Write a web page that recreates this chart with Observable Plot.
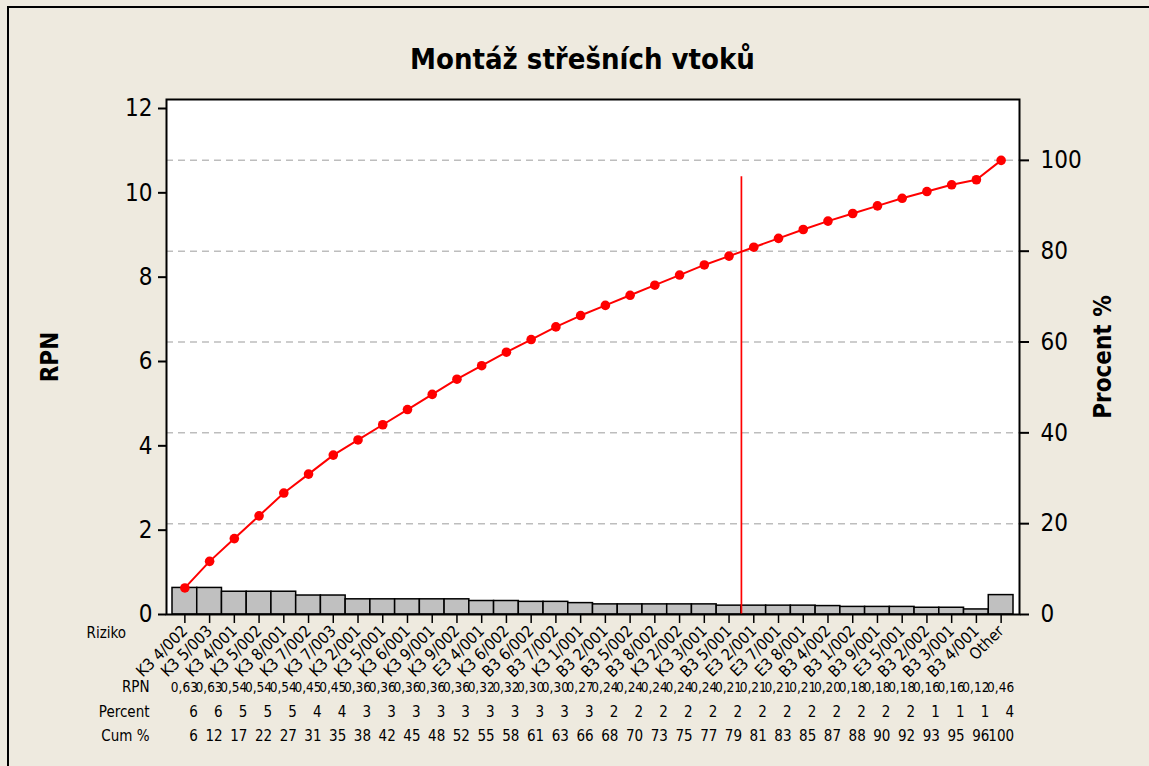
<!DOCTYPE html>
<html>
<head>
<meta charset="utf-8">
<script src="https://cdn.jsdelivr.net/npm/d3@7"></script>
<script src="https://cdn.jsdelivr.net/npm/@observablehq/plot@0.6"></script>
<style>
  html, body { margin: 0; padding: 0; width: 1149px; height: 766px; overflow: hidden; background: #EEEADF; }
  #page { position: relative; width: 1149px; height: 766px; background: #EEEADF; overflow: hidden;
          font-family: "DejaVu Sans Condensed", "DejaVu Sans", sans-serif; color: #000; }
  #border { position: absolute; left: 7px; top: 6px; width: 1300px; height: 900px; border: 2px solid #000; box-sizing: border-box; }
  #title { position: absolute; left: 0; top: 41px; width: 1165px; text-align: center; font-weight: bold; font-size: 29px; line-height: 36px; }
  #chart { position: absolute; left: 0; top: 0; }
</style>
</head>
<body>
<div id="page">
  <div id="border"></div>
  <div id="chart"></div>
  <div id="title">Montáž střešních vtoků</div>
</div>
<script>
const categories = ["K3 4/002","K3 5/003","K3 4/001","K3 5/002","K3 8/001","K3 7/002","K3 7/003","K3 2/001","K3 5/001","K3 6/001","K3 9/001","K3 9/002","E3 4/001","K3 6/002","B3 6/002","B3 7/002","K3 1/001","B3 2/001","B3 5/002","B3 8/002","K3 2/002","K3 3/001","B3 5/001","E3 2/001","E3 7/001","E3 8/001","B3 4/002","B3 1/002","B3 9/001","E3 5/001","B3 2/002","B3 3/001","B3 4/001","Other"];
const rpn = [0.63,0.63,0.54,0.54,0.54,0.45,0.45,0.36,0.36,0.36,0.36,0.36,0.32,0.32,0.30,0.30,0.27,0.24,0.24,0.24,0.24,0.24,0.21,0.21,0.21,0.21,0.20,0.18,0.18,0.18,0.16,0.16,0.12,0.46];
const percent = [6,6,5,5,5,4,4,3,3,3,3,3,3,3,3,3,3,2,2,2,2,2,2,2,2,2,2,2,2,2,1,1,1,4];
const cumPercent = [6,12,17,22,27,31,35,38,42,45,48,52,55,58,61,63,66,68,70,73,75,77,79,81,83,85,87,88,90,92,93,95,96,100];
const leftTicks = [0,2,4,6,8,10,12];
const rightTicks = [0,20,40,60,80,100];
const gridPercents = [20,40,60,80,100];
const cutoffAfter = "B3 5/001";
const cutoffTop = 10.38;

const total = d3.sum(rpn);
const cum = d3.cumsum(rpn);
const data = categories.map((c, i) => ({cat: c, rpn: rpn[i], pct: percent[i], cumPct: cumPercent[i], cum: cum[i]}));
const fmt = v => v.toFixed(2).replace(".", ",");

const W = 1149, H = 766;
const mL = 166, mR = W - 1019, mT = 99, mB = H - 614;
const bw = (W - mL - mR - 12) / categories.length;

const chart = Plot.plot({
  width: W, height: H,
  marginLeft: mL, marginRight: mR, marginTop: mT, marginBottom: mB,
  style: {background: "transparent", fontFamily: "'DejaVu Sans Condensed', 'DejaVu Sans', sans-serif", color: "#000", overflow: "visible"},
  x: {domain: categories, padding: 0, round: false, insetLeft: 6, insetRight: 6},
  y: {domain: [0, 12], insetTop: 9},
  marks: [
    Plot.frame({fill: "white", stroke: null}),
    Plot.ruleY(gridPercents, {y: p => p * total / 100, stroke: "#BDBDBD", strokeWidth: 1.5, strokeDasharray: "7,5"}),
    Plot.barY(data, {x: "cat", y: "rpn", fill: "#C0C0C0", stroke: "#000", strokeWidth: 1.5}),
    Plot.ruleX([cutoffAfter], {y1: 0, y2: cutoffTop, stroke: "#FF0000", strokeWidth: 1.7, dx: bw / 2}),
    Plot.line(data, {x: "cat", y: "cum", stroke: "#FF0000", strokeWidth: 2}),
    Plot.dot(data, {x: "cat", y: "cum", r: 4.8, fill: "#FF0000", stroke: null}),
    Plot.frame({stroke: "#000", strokeWidth: 2}),
    Plot.axisY({anchor: "left", ticks: leftTicks, tickSize: 8, tickPadding: 6, fontSize: 24, strokeWidth: 2, label: null}),
    Plot.axisY({anchor: "right", ticks: rightTicks.map(p => p * total / 100), tickFormat: d => String(Math.round(d / total * 100)), tickSize: 9, tickPadding: 12, fontSize: 24, strokeWidth: 2, label: null}),
    Plot.axisX({tickRotate: -45, tickSize: 9, tickPadding: 5, fontSize: 16, strokeWidth: 1.5, label: null}),
    Plot.text(["RPN"], {frameAnchor: "left", textAnchor: "middle", dx: -116, rotate: -90, fontSize: 24, fontWeight: "bold"}),
    Plot.text(["Procent %"], {frameAnchor: "right", textAnchor: "middle", dx: 84, rotate: -90, fontSize: 24, fontWeight: "bold"}),
    Plot.text(["Riziko"], {frameAnchor: "bottom-left", dx: -80, dy: 23, textAnchor: "start", fontSize: 15}),
    Plot.text(["RPN"], {frameAnchor: "bottom-left", dx: -17, dy: 77, textAnchor: "end", fontSize: 15}),
    Plot.text(["Percent"], {frameAnchor: "bottom-left", dx: -17, dy: 102, textAnchor: "end", fontSize: 15}),
    Plot.text(["Cum %"], {frameAnchor: "bottom-left", dx: -17, dy: 126, textAnchor: "end", fontSize: 15}),
    Plot.text(data, {x: "cat", frameAnchor: "bottom", text: d => fmt(d.rpn), dx: 13, dy: 77, textAnchor: "end", fontSize: 13.5, letterSpacing: "-0.7px"}),
    Plot.text(data, {x: "cat", frameAnchor: "bottom", text: "pct", dx: 13, dy: 102, textAnchor: "end", fontSize: 15}),
    Plot.text(data, {x: "cat", frameAnchor: "bottom", text: "cumPct", dx: 13, dy: 126, textAnchor: "end", fontSize: 15})
  ]
});
document.getElementById("chart").appendChild(chart);
</script>
</body>
</html>
